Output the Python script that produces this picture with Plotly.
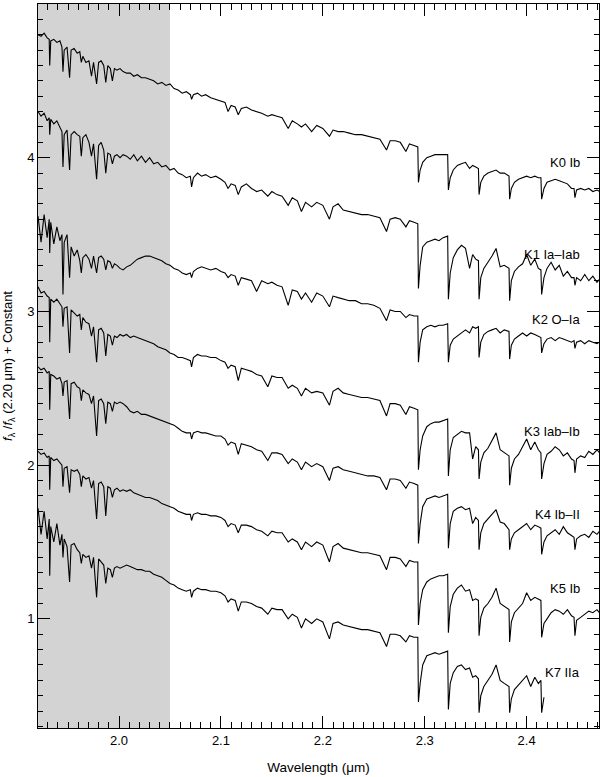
import plotly.graph_objects as go

# shared wavelength grid (um); extra points at line / bandhead positions
wavelength = [
    1.9205, 1.9235, 1.9265, 1.9295, 1.9315, 1.9320, 1.9330, 1.9360, 1.9390, 1.9420,
    1.9440, 1.9450, 1.9462, 1.9490, 1.9515, 1.9530, 1.9560, 1.9590, 1.9615, 1.9630,
    1.9645, 1.9675, 1.9705, 1.9730, 1.9750, 1.9780, 1.9800, 1.9825, 1.9850, 1.9870,
    1.9890, 1.9915, 1.9935, 1.9955, 1.9980, 2.0010,
    2.0040, 2.0075, 2.0110, 2.0145, 2.0180, 2.0220, 2.0260, 2.0300, 2.0340, 2.0380,
    2.0420, 2.0460, 2.0500, 2.0540, 2.0580, 2.0620, 2.0660, 2.0700, 2.0712, 2.0730,
    2.0770, 2.0810, 2.0850, 2.0900, 2.0950, 2.1000, 2.1040, 2.1070, 2.1100, 2.1140,
    2.1170, 2.1200, 2.1250, 2.1300, 2.1350, 2.1400, 2.1460, 2.1500, 2.1550, 2.1600,
    2.1660, 2.1700, 2.1750, 2.1790, 2.1830, 2.1890, 2.1940, 2.2000, 2.2065, 2.2100,
    2.2150, 2.2200, 2.2260, 2.2320, 2.2380, 2.2440, 2.2500, 2.2560, 2.2625, 2.2660,
    2.2710, 2.2760, 2.2815, 2.2850, 2.2895, 2.2932,
    2.2938, 2.2955, 2.2980, 2.3020, 2.3060, 2.3100, 2.3140, 2.3180, 2.3225, 2.3232,
    2.3250, 2.3280, 2.3320, 2.3360, 2.3400, 2.3440, 2.3470, 2.3500, 2.3527, 2.3533,
    2.3550, 2.3580, 2.3620, 2.3660, 2.3700, 2.3740, 2.3780, 2.3827, 2.3833, 2.3850,
    2.3880, 2.3920, 2.3960, 2.4000, 2.4040, 2.4080, 2.4115, 2.4140, 2.4147, 2.4170,
    2.4200, 2.4240, 2.4280, 2.4320, 2.4360, 2.4400, 2.4440, 2.4465, 2.4474, 2.4490,
    2.4530, 2.4570, 2.4610, 2.4650, 2.4690, 2.4715,
]

k0_ib = [
    4.80, 4.79, 4.81, 4.78, 4.77, 4.60, 4.76, 4.77, 4.75, 4.76,
    4.72, 4.56, 4.70, 4.72, 4.52, 4.70, 4.71, 4.68, 4.69, 4.62,
    4.66, 4.62, 4.63, 4.53, 4.62, 4.48, 4.62, 4.63, 4.60, 4.49,
    4.60, 4.58, 4.50, 4.58, 4.57, 4.58,
    4.56, 4.55, 4.55, 4.53, 4.54, 4.52, 4.52, 4.51, 4.50, 4.48,
    4.49, 4.47, 4.48, 4.45, 4.44, 4.42, 4.43, 4.41, 4.38, 4.41,
    4.42, 4.40, 4.41, 4.39, 4.38, 4.37, 4.36, 4.30, 4.34, 4.33,
    4.28, 4.32, 4.33, 4.31, 4.30, 4.29, 4.27, 4.28, 4.27, 4.26,
    4.19, 4.24, 4.22, 4.20, 4.22, 4.17, 4.21, 4.19, 4.14, 4.18,
    4.17, 4.17, 4.16, 4.15, 4.15, 4.14, 4.13, 4.12, 4.05, 4.11,
    4.11, 4.10, 4.04, 4.09, 4.08, 4.07,
    3.84, 3.92, 3.97, 4.00, 4.01, 4.02, 4.02, 4.02, 4.02, 3.79,
    3.87, 3.92, 3.95, 3.96, 3.97, 3.93, 3.95, 3.94, 3.93, 3.76,
    3.84, 3.88, 3.90, 3.91, 3.92, 3.90, 3.90, 3.88, 3.73, 3.80,
    3.84, 3.86, 3.87, 3.88, 3.87, 3.88, 3.87, 3.87, 3.73, 3.80,
    3.84, 3.85, 3.86, 3.85, 3.84, 3.83, 3.80, 3.80, 3.74, 3.79,
    3.80, 3.79, 3.80, 3.78, 3.79, 3.78,
]

k1_ia_iab = [
    4.30, 4.27, 4.29, 4.24, 4.26, 4.15, 4.25, 4.22, 4.24, 4.20,
    4.17, 3.94, 4.15, 4.18, 3.92, 4.15, 4.17, 4.15, 4.14, 4.01,
    4.13, 4.15, 4.10, 4.01, 4.09, 3.86, 4.08, 4.10, 4.05, 3.90,
    4.03, 4.02, 3.96, 4.01, 4.02, 4.00,
    4.02, 4.01, 3.99, 4.02, 3.98, 4.01, 3.97, 4.00, 3.96, 3.97,
    3.94, 3.95, 3.92, 3.93, 3.90, 3.89, 3.87, 3.88, 3.81, 3.87,
    3.90, 3.88, 3.89, 3.87, 3.88, 3.86, 3.84, 3.80, 3.83, 3.82,
    3.76, 3.81, 3.83, 3.80, 3.78, 3.79, 3.75, 3.78, 3.76, 3.75,
    3.69, 3.74, 3.72, 3.65, 3.71, 3.68, 3.71, 3.69, 3.60, 3.68,
    3.70, 3.66, 3.65, 3.64, 3.63, 3.63, 3.62, 3.61, 3.52, 3.60,
    3.61, 3.60, 3.55, 3.59, 3.58, 3.57,
    3.15, 3.30, 3.42, 3.45, 3.46, 3.47, 3.46, 3.48, 3.49, 3.08,
    3.25, 3.35, 3.40, 3.43, 3.41, 3.28, 3.37, 3.34, 3.33, 3.08,
    3.22, 3.28, 3.32, 3.36, 3.41, 3.29, 3.30, 3.28, 3.07, 3.20,
    3.26, 3.29, 3.31, 3.37, 3.30, 3.34, 3.28, 3.27, 3.11, 3.22,
    3.28, 3.32, 3.27, 3.30, 3.23, 3.26, 3.22, 3.22, 3.17, 3.22,
    3.20, 3.24, 3.20, 3.23, 3.19, 3.21,
]

k2_o_ia = [
    3.62, 3.45, 3.63, 3.48, 3.60, 3.38, 3.58, 3.44, 3.55, 3.46,
    3.50, 3.11, 3.45, 3.50, 3.22, 3.42, 3.36, 3.40, 3.33, 3.25,
    3.35, 3.37, 3.34, 3.28, 3.36, 3.25, 3.35, 3.36, 3.34, 3.27,
    3.33, 3.32, 3.28, 3.31, 3.30, 3.28,
    3.27, 3.29, 3.30, 3.32, 3.34, 3.35, 3.36, 3.36, 3.35, 3.34,
    3.33, 3.31, 3.30, 3.28, 3.27, 3.25, 3.24, 3.25, 3.22, 3.26,
    3.28, 3.29, 3.28, 3.27, 3.28, 3.26, 3.25, 3.22, 3.24, 3.23,
    3.17, 3.22, 3.21, 3.20, 3.13, 3.20, 3.18, 3.19, 3.17, 3.16,
    3.04, 3.14, 3.13, 3.08, 3.12, 3.06, 3.12, 3.10, 3.03, 3.10,
    3.09, 3.08, 3.07, 3.07, 3.05, 3.05, 3.04, 3.02, 2.94, 3.01,
    3.00, 3.00, 2.96, 2.98, 2.97, 2.97,
    2.67, 2.80, 2.88, 2.90, 2.91, 2.90, 2.91, 2.91, 2.92, 2.67,
    2.78, 2.82, 2.84, 2.86, 2.88, 2.86, 2.90, 2.89, 2.90, 2.70,
    2.80, 2.85, 2.87, 2.88, 2.89, 2.86, 2.88, 2.87, 2.69, 2.78,
    2.82, 2.84, 2.86, 2.84, 2.86, 2.85, 2.84, 2.83, 2.73, 2.79,
    2.82, 2.83, 2.81, 2.83, 2.82, 2.81, 2.80, 2.81, 2.76, 2.80,
    2.81, 2.79, 2.81, 2.80, 2.79, 2.80,
]

k3_iab_ib = [
    3.16, 3.12, 3.13, 3.10, 3.09, 2.80, 3.08, 3.06, 3.08, 3.05,
    3.03, 2.90, 3.02, 3.03, 2.73, 3.01, 2.99, 2.97, 2.98, 2.88,
    2.96, 2.93, 2.92, 2.84, 2.90, 2.67, 2.88, 2.89, 2.86, 2.71,
    2.85, 2.84, 2.78, 2.84, 2.83, 2.85,
    2.84, 2.85, 2.83, 2.84, 2.83, 2.82, 2.81, 2.80, 2.79, 2.77,
    2.76, 2.75, 2.73, 2.72, 2.70, 2.70, 2.69, 2.68, 2.64, 2.70,
    2.72, 2.71, 2.71, 2.70, 2.70, 2.68, 2.67, 2.63, 2.65, 2.64,
    2.55, 2.63, 2.62, 2.61, 2.59, 2.58, 2.51, 2.58, 2.57, 2.57,
    2.50, 2.52, 2.50, 2.45, 2.50, 2.47, 2.48, 2.47, 2.39, 2.48,
    2.50, 2.47, 2.46, 2.45, 2.44, 2.44, 2.43, 2.42, 2.32, 2.40,
    2.40, 2.39, 2.33, 2.38, 2.37, 2.36,
    1.97, 2.10, 2.19, 2.25, 2.27, 2.28, 2.28, 2.29, 2.30, 1.93,
    2.10, 2.18, 2.20, 2.22, 2.21, 2.21, 2.04, 2.12, 2.10, 1.91,
    2.02, 2.08, 2.11, 2.16, 2.21, 2.10, 2.08, 2.06, 1.87, 1.98,
    2.04, 2.07, 2.12, 2.17, 2.10, 2.15, 2.10, 2.08, 1.91, 2.01,
    2.07, 2.09, 2.12, 2.10, 2.06, 2.08, 2.04, 2.03, 1.95, 2.04,
    2.06, 2.05, 2.09, 2.07, 2.10, 2.08,
]

k4_ib_ii = [
    2.64, 2.62, 2.63, 2.60, 2.61, 2.36, 2.59, 2.58, 2.56, 2.57,
    2.53, 2.45, 2.54, 2.55, 2.30, 2.53, 2.54, 2.51, 2.50, 2.42,
    2.49, 2.47, 2.46, 2.40, 2.45, 2.19, 2.42, 2.43, 2.40, 2.27,
    2.41, 2.40, 2.35, 2.41, 2.40, 2.41,
    2.40, 2.38, 2.35, 2.34, 2.35, 2.33, 2.33, 2.32, 2.31, 2.30,
    2.29, 2.28, 2.27, 2.26, 2.24, 2.22, 2.21, 2.21, 2.17, 2.21,
    2.22, 2.21, 2.21, 2.20, 2.19, 2.19, 2.17, 2.13, 2.15, 2.14,
    2.07, 2.14, 2.13, 2.12, 2.10, 2.09, 2.03, 2.08, 2.08, 2.07,
    2.01, 2.04, 2.02, 1.97, 2.02, 1.99, 2.01, 1.99, 1.90, 1.98,
    1.99, 1.97, 1.96, 1.95, 1.94, 1.93, 1.93, 1.92, 1.84, 1.91,
    1.91, 1.90, 1.85, 1.89, 1.88, 1.87,
    1.49, 1.62, 1.73, 1.78, 1.79, 1.80, 1.79, 1.80, 1.81, 1.46,
    1.62, 1.70, 1.72, 1.73, 1.71, 1.72, 1.62, 1.66, 1.64, 1.45,
    1.56, 1.62, 1.65, 1.68, 1.71, 1.63, 1.62, 1.58, 1.45, 1.52,
    1.56, 1.58, 1.60, 1.62, 1.58, 1.61, 1.60, 1.59, 1.42, 1.50,
    1.54, 1.56, 1.58, 1.55, 1.60, 1.56, 1.54, 1.53, 1.45, 1.52,
    1.54, 1.55, 1.53, 1.57, 1.55, 1.57,
]

k5_ib = [
    2.09, 2.07, 2.08, 2.05, 2.06, 1.84, 2.05, 2.03, 2.04, 2.02,
    2.00, 1.86, 1.98, 1.99, 1.82, 1.97, 1.96, 1.97, 1.94, 1.86,
    1.93, 1.91, 1.92, 1.85, 1.90, 1.65, 1.88, 1.89, 1.86, 1.67,
    1.86, 1.85, 1.79, 1.84, 1.85, 1.83,
    1.84, 1.83, 1.84, 1.82, 1.81, 1.80, 1.79, 1.79, 1.78, 1.77,
    1.75, 1.74, 1.73, 1.72, 1.70, 1.69, 1.68, 1.68, 1.64, 1.68,
    1.69, 1.68, 1.68, 1.67, 1.67, 1.66, 1.64, 1.60, 1.62, 1.61,
    1.56, 1.61, 1.61, 1.60, 1.58, 1.57, 1.54, 1.57, 1.56, 1.56,
    1.50, 1.52, 1.50, 1.45, 1.50, 1.47, 1.50, 1.48, 1.37, 1.47,
    1.49, 1.46, 1.45, 1.44, 1.43, 1.43, 1.42, 1.41, 1.32, 1.40,
    1.40, 1.39, 1.34, 1.38, 1.37, 1.37,
    0.96, 1.10, 1.19, 1.24, 1.26, 1.27, 1.28, 1.28, 1.29, 0.91,
    1.08, 1.16, 1.20, 1.22, 1.18, 1.19, 1.12, 1.13, 1.12, 0.89,
    1.01, 1.07, 1.10, 1.14, 1.20, 1.10, 1.08, 1.06, 0.85, 0.98,
    1.04, 1.07, 1.10, 1.17, 1.12, 1.14, 1.13, 1.12, 0.88, 0.97,
    1.00, 1.04, 1.06, 1.05, 1.03, 1.06, 1.02, 1.01, 0.89, 0.99,
    1.01, 1.03, 1.05, 1.04, 1.06, 1.04,
]

# K7 IIa stops short, near 2.417 um
k7_iia = [
    1.72, 1.55, 1.70, 1.52, 1.65, 1.28, 1.60, 1.50, 1.62, 1.48,
    1.55, 1.40, 1.52, 1.47, 1.24, 1.48, 1.49, 1.45, 1.43, 1.36,
    1.42, 1.40, 1.41, 1.33, 1.40, 1.14, 1.39, 1.37, 1.35, 1.23,
    1.33, 1.32, 1.27, 1.33, 1.34, 1.33,
    1.34, 1.35, 1.34, 1.33, 1.32, 1.32, 1.31, 1.31, 1.29, 1.28,
    1.27, 1.25, 1.23, 1.22, 1.20, 1.19, 1.18, 1.19, 1.14, 1.18,
    1.20, 1.19, 1.19, 1.18, 1.18, 1.17, 1.15, 1.11, 1.13, 1.12,
    1.05, 1.11, 1.11, 1.10, 1.08, 1.07, 1.03, 1.07, 1.06, 1.06,
    1.00, 1.03, 1.01, 0.94, 1.00, 0.97, 1.00, 0.98, 0.87, 0.97,
    0.98, 0.96, 0.95, 0.94, 0.93, 0.93, 0.92, 0.91, 0.82, 0.90,
    0.90, 0.89, 0.85, 0.89, 0.88, 0.88,
    0.46, 0.58, 0.70, 0.76, 0.77, 0.78, 0.77, 0.78, 0.79, 0.41,
    0.58, 0.65, 0.69, 0.70, 0.67, 0.68, 0.62, 0.63, 0.61, 0.39,
    0.50, 0.56, 0.60, 0.64, 0.70, 0.60, 0.58, 0.56, 0.39, 0.48,
    0.54, 0.57, 0.60, 0.63, 0.56, 0.62, 0.58, 0.60, 0.39, 0.49,
]

spectra = [k0_ib, k1_ia_iab, k2_o_ia, k3_iab_ib, k4_ib_ii, k5_ib, k7_iia]
spectral_types = ["K0 Ib", "K1 Ia\u2013Iab", "K2 O\u2013Ia", "K3 Iab\u2013Ib",
                  "K4 Ib\u2013II", "K5 Ib", "K7 IIa"]
label_levels = [3.97, 3.37, 2.95, 2.22, 1.68, 1.20, 0.65]

font = "Helvetica, Arial, Liberation Sans, sans-serif"
x_range = [1.9205, 2.471]
y_range = [0.29, 5.0]
band_edge = 2.05

fig = go.Figure()

# shaded region blueward of 2.05 um, as a filled trace under the spectra
# (a layout shape suppressed the axis ticks in earlier runs)
fig.add_trace(go.Scatter(
    x=[x_range[0], band_edge, band_edge, x_range[0], x_range[0]],
    y=[y_range[0], y_range[0], y_range[1], y_range[1], y_range[0]],
    mode="lines", fill="toself", fillcolor="#d3d3d3",
    line=dict(width=0, color="#d3d3d3"), hoverinfo="skip", showlegend=False,
))

for flux, name in zip(spectra, spectral_types):
    fig.add_trace(go.Scatter(
        x=wavelength[:len(flux)], y=flux, mode="lines", name=name,
        line=dict(color="black", width=1.1), showlegend=False,
    ))

for name, lev in zip(spectral_types, label_levels):
    fig.add_annotation(x=2.454, y=lev, text=name, showarrow=False,
                       xanchor="right", yanchor="middle",
                       font=dict(size=13, color="black", family=font))

fig.update_xaxes(
    range=x_range, tick0=2.0, dtick=0.1, tickformat=".1f",
    showline=True, linecolor="black", mirror="ticks", showgrid=False, zeroline=False,
    ticks="inside", ticklen=12, tickcolor="black", tickwidth=1,
    minor=dict(ticks="inside", ticklen=6, dtick=0.01, tickcolor="black"),
    tickfont=dict(size=13, color="black", family=font),
    title=dict(text="Wavelength (\u03bcm)", font=dict(size=13.5, color="black", family=font)),
)
fig.update_yaxes(
    range=y_range, tick0=0, dtick=1,
    showline=True, linecolor="black", mirror="ticks", showgrid=False, zeroline=False,
    ticks="inside", ticklen=12, tickcolor="black", tickwidth=1,
    minor=dict(ticks="inside", ticklen=5, dtick=0.1, tickcolor="black"),
    tickfont=dict(size=13, color="black", family=font),
    title=dict(text="<i>f</i><sub>\u03bb</sub> /<i>f</i><sub>\u03bb</sub> (2.20 \u03bcm) + Constant",
               font=dict(size=13, color="black", family=font)),
)

fig.update_layout(
    width=600, height=777,
    margin=dict(l=38, r=1, t=4, b=49),
    plot_bgcolor="white", paper_bgcolor="white",
)

# the page's default body margin would shift the figure by 8 px
fig.write_html("out.html", post_script="document.body.style.margin='0px';",
               config={"displayModeBar": False})
